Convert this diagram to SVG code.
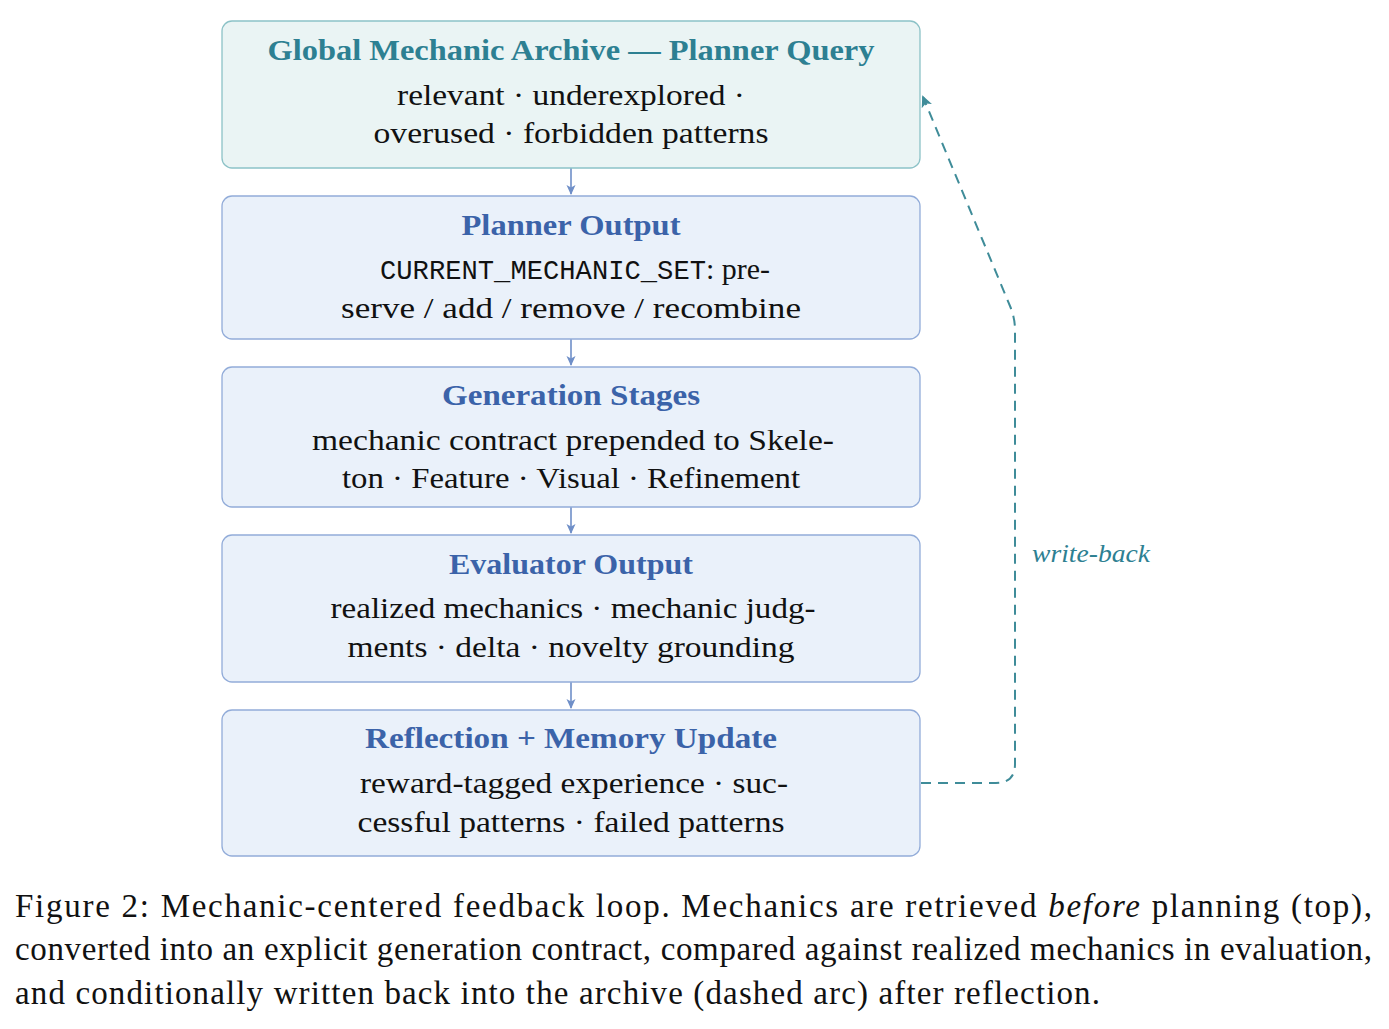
<svg xmlns="http://www.w3.org/2000/svg" width="1389" height="1029" viewBox="0 0 1389 1029">
<defs>
<marker id="ah" markerWidth="12" markerHeight="12" refX="9" refY="6" orient="auto" markerUnits="userSpaceOnUse">
<path d="M0,1.5 L10,6 L0,10.5 L2.5,6 Z" fill="#6f8fc8"/>
</marker>
<marker id="ahT" markerWidth="14" markerHeight="14" refX="10" refY="7" orient="auto" markerUnits="userSpaceOnUse">
<path d="M0,1.5 L12,7 L0,12.5 L3,7 Z" fill="#3f8c99"/>
</marker>
</defs>
<style>
.box{fill:#eaf1fa;stroke:#92acd9;stroke-width:1.3}
.box1{fill:#eaf4f4;stroke:#8cc2c7;stroke-width:1.3}
.t{font-family:"Liberation Serif",serif;font-weight:bold;font-size:29px;fill:#3b63a9;text-anchor:middle}
.t1{fill:#2d8092}
.b{font-family:"Liberation Serif",serif;font-size:29px;fill:#111;text-anchor:middle}
.m{font-family:"Liberation Mono","DejaVu Sans Mono",monospace;font-size:27px;fill:#111}
.cap{font-family:"Liberation Serif",serif;font-size:33px;fill:#111}
.arr{stroke:#6f8fc8;stroke-width:1.6;fill:none}
.wb{stroke:#3f8c99;stroke-width:2;fill:none;stroke-dasharray:10 7}
</style>
<g id="connectors">
<line class="arr" x1="571" y1="168" x2="571" y2="194" marker-end="url(#ah)"/>
<line class="arr" x1="571" y1="339" x2="571" y2="365" marker-end="url(#ah)"/>
<line class="arr" x1="571" y1="507" x2="571" y2="533" marker-end="url(#ah)"/>
<line class="arr" x1="571" y1="682" x2="571" y2="708" marker-end="url(#ah)"/>
<path class="wb" d="M921,783 L996,783 Q1015,783 1015,764 L1015,330 Q1015,318 1010,306 L923,97" marker-end="url(#ahT)"/>
<text x="1032" y="562" textLength="118" lengthAdjust="spacingAndGlyphs" style="font-family:'Liberation Serif',serif;font-style:italic;font-size:26px;fill:#2d8092">write-back</text>
</g>
<g id="n1">
<rect class="box1" x="222" y="21" width="698" height="147" rx="10"/>
<text class="t t1" x="571" y="60" textLength="607" lengthAdjust="spacingAndGlyphs">Global Mechanic Archive — Planner Query</text>
<text class="b" x="571" y="105" textLength="348" lengthAdjust="spacingAndGlyphs">relevant · underexplored ·</text>
<text class="b" x="571" y="143" textLength="395" lengthAdjust="spacingAndGlyphs">overused · forbidden patterns</text>
</g>
<g id="n2">
<rect class="box" x="222" y="196" width="698" height="143" rx="10"/>
<text class="t" x="571" y="235" textLength="219" lengthAdjust="spacingAndGlyphs">Planner Output</text>
<text class="m" x="380" y="279" textLength="326" lengthAdjust="spacingAndGlyphs">CURRENT_MECHANIC_SET</text>
<text class="b" x="706" y="279" style="text-anchor:start" textLength="64" lengthAdjust="spacingAndGlyphs">: pre-</text>
<text class="b" x="571" y="318" textLength="460" lengthAdjust="spacingAndGlyphs">serve / add / remove / recombine</text>
</g>
<g id="n3">
<rect class="box" x="222" y="367" width="698" height="140" rx="10"/>
<text class="t" x="571" y="405" textLength="258" lengthAdjust="spacingAndGlyphs">Generation Stages</text>
<text class="b" x="573" y="450" textLength="522" lengthAdjust="spacingAndGlyphs">mechanic contract prepended to Skele-</text>
<text class="b" x="571" y="488" textLength="458" lengthAdjust="spacingAndGlyphs">ton · Feature · Visual · Refinement</text>
</g>
<g id="n4">
<rect class="box" x="222" y="535" width="698" height="147" rx="10"/>
<text class="t" x="571" y="574" textLength="244" lengthAdjust="spacingAndGlyphs">Evaluator Output</text>
<text class="b" x="573" y="618" textLength="485" lengthAdjust="spacingAndGlyphs">realized mechanics · mechanic judg-</text>
<text class="b" x="571" y="657" textLength="447" lengthAdjust="spacingAndGlyphs">ments · delta · novelty grounding</text>
</g>
<g id="n5">
<rect class="box" x="222" y="710" width="698" height="146" rx="10"/>
<text class="t" x="571" y="748" textLength="412" lengthAdjust="spacingAndGlyphs">Reflection + Memory Update</text>
<text class="b" x="574" y="793" textLength="428" lengthAdjust="spacingAndGlyphs">reward-tagged experience · suc-</text>
<text class="b" x="571" y="832" textLength="427" lengthAdjust="spacingAndGlyphs">cessful patterns · failed patterns</text>
</g>
<g id="caption">
<text class="cap" x="15" y="917" textLength="1357" lengthAdjust="spacing">Figure 2: Mechanic-centered feedback loop.  Mechanics are retrieved <tspan font-style="italic">before</tspan> planning (top),</text>
<text class="cap" x="15" y="960" textLength="1357" lengthAdjust="spacing">converted into an explicit generation contract, compared against realized mechanics in evaluation,</text>
<text class="cap" x="15" y="1004" textLength="1085" lengthAdjust="spacing">and conditionally written back into the archive (dashed arc) after reflection.</text>
</g>
</svg>
